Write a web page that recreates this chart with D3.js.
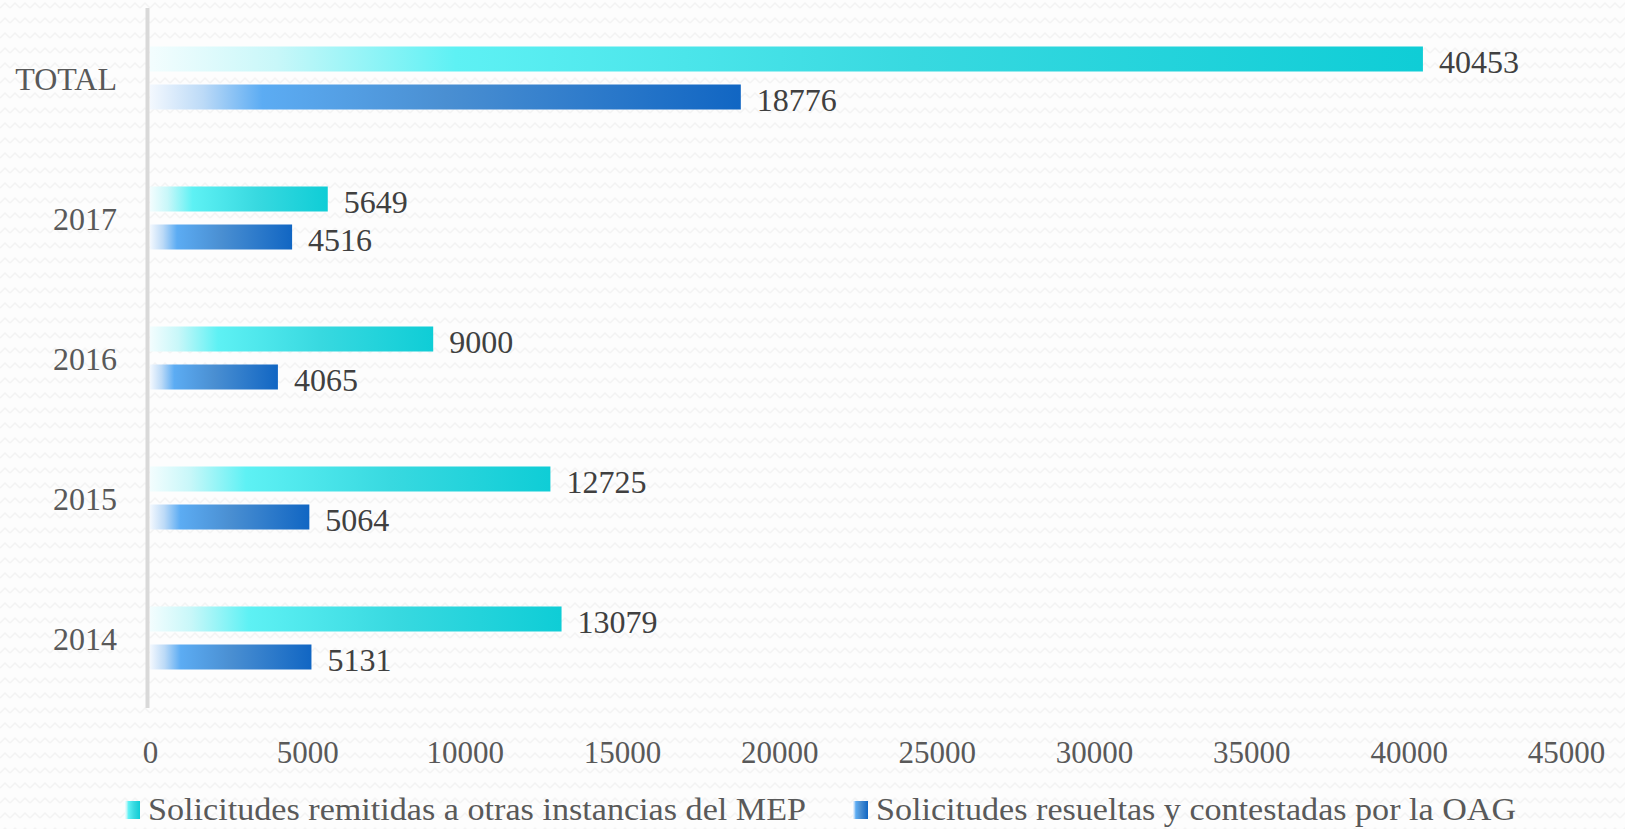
<html>
<head>
<meta charset="utf-8">
<script type="text/javascript" src="https://cdnjs.cloudflare.com/ajax/libs/d3/7.8.5/d3.min.js"></script>
<style>
  body { margin: 0; background: #fdfdfd; }
  text { font-family: "Liberation Serif", "DejaVu Serif", serif; }
</style>
</head>
<body>
<div id="chart"></div>
<script type="text/javascript">

// chart values (top to bottom)
var categories = ["TOTAL", "2017", "2016", "2015", "2014"];
var remitidas = [40453, 5649, 9000, 12725, 13079];
var resueltas = [18776, 4516, 4065, 5064, 5131];
var tickValues = [0, 5000, 10000, 15000, 20000, 25000, 30000, 35000, 40000, 45000];
var seriesNames = ["Solicitudes remitidas a otras instancias del MEP",
                   "Solicitudes resueltas y contestadas por la OAG"];

var width = 1625, height = 829;

var svg = d3.select("#chart").append("svg")
    .attr("width", width)
    .attr("height", height);

var defs = svg.append("defs");

// faint zigzag background
var pat = defs.append("pattern")
    .attr("id", "zig")
    .attr("width", 10)
    .attr("height", 15)
    .attr("patternUnits", "userSpaceOnUse");
pat.append("rect").attr("width", 10).attr("height", 15).attr("fill", "#fdfdfd");
pat.append("path")
    .attr("d", "M0,8 L5,3 L10,8")
    .attr("fill", "none")
    .attr("stroke", "#f3f3f3")
    .attr("stroke-width", 1.5);
svg.append("rect").attr("width", width).attr("height", height).attr("fill", "url(#zig)");

/* gradient helper
   id: gradient id, stops: [offset, colour] pairs */
function makeGradient(id, stops) {
  var g = defs.append("linearGradient")
      .attr("id", id)
      .attr("x1", "0%").attr("x2", "100%")
      .attr("y1", "0%").attr("y2", "0%");
  stops.forEach(function (s) {
    g.append("stop").attr("offset", s[0]).attr("stop-color", s[1]);
  });
}
makeGradient("gCyan", [[0, "#f3fdfe"], [0.1, "#c8f7f9"], [0.24, "#5ef1f4"], [0.6, "#38d9e0"], [1, "#0fcdd6"]]);
makeGradient("gBlue", [[0, "#f3f8fe"], [0.09, "#bcdaf7"], [0.19, "#5cacf3"], [0.5, "#4a8fd2"], [1, "#1166c3"]]);

var x = d3.scaleLinear().domain([0, 45000]).range([150, 1566]);
var y = d3.scaleBand().domain(categories).range([8, 708]);

var barH = 25, gap = 13;

// vertical axis line
svg.append("line")
    .attr("x1", 147.5).attr("x2", 147.5)
    .attr("y1", 8).attr("y2", 708)
    .attr("stroke", "#d9d9d9")
    .attr("stroke-width", 4);

// category labels
svg.selectAll(".cat")
    .data(categories)
  .enter().append("text")
    .attr("class", "cat")
    .attr("x", 117)
    .attr("y", function (d) { return y(d) + y.bandwidth() / 2 + 12; })
    .attr("text-anchor", "end")
    .attr("font-size", 32)
    .attr("fill", "#595959")
    .text(function (d) { return d; });

function drawSeries(values, fill, offset) {
  var g = svg.append("g");
  g.selectAll("rect")
      .data(values)
    .enter().append("rect")
      .attr("x", x(0))
      .attr("y", function (d, i) { return y(categories[i]) + y.bandwidth() / 2 + offset; })
      .attr("width", function (d) { return x(d) - x(0); })
      .attr("height", barH)
      .attr("fill", fill);
  g.selectAll("text")
      .data(values)
    .enter().append("text")
      .attr("x", function (d) { return x(d) + 16; })
      .attr("y", function (d, i) { return y(categories[i]) + y.bandwidth() / 2 + offset + barH / 2 + 14; })
      .attr("font-size", 32)
      .attr("fill", "#404040")
      .text(function (d) { return d; });
}
drawSeries(remitidas, "url(#gCyan)", -gap / 2 - barH);
drawSeries(resueltas, "url(#gBlue)", gap / 2);

// x axis tick labels, no line
var axis = svg.append("g")
    .attr("transform", "translate(0,752)")
    .call(d3.axisBottom(x).tickValues(tickValues).tickSize(0).tickFormat(d3.format("d")));
axis.select(".domain").remove();
axis.selectAll("text")
    .attr("dy", "0.35em")
    .attr("y", 0)
    .attr("font-size", 31)
    .attr("font-family", "Liberation Serif, serif")
    .attr("fill", "#595959");

// legend
var legend = [
  { name: seriesNames[0], fill: "url(#gCyan)", sx: 125, tx: 148, tw: 658 },
  { name: seriesNames[1], fill: "url(#gBlue)", sx: 853, tx: 876, tw: 640 }
];
var lg = svg.selectAll(".legend")
    .data(legend)
  .enter().append("g")
    .attr("class", "legend");
lg.append("rect")
    .attr("x", function (d) { return d.sx; })
    .attr("y", 801)
    .attr("width", 15)
    .attr("height", 18)
    .attr("fill", function (d) { return d.fill; });
lg.append("text")
    .attr("x", function (d) { return d.tx; })
    .attr("y", 820)
    .attr("font-size", 32)
    .attr("fill", "#595959")
    .attr("textLength", function (d) { return d.tw; })
    .attr("lengthAdjust", "spacingAndGlyphs")
    .text(function (d) { return d.name; });

</script>
</body>
</html>
